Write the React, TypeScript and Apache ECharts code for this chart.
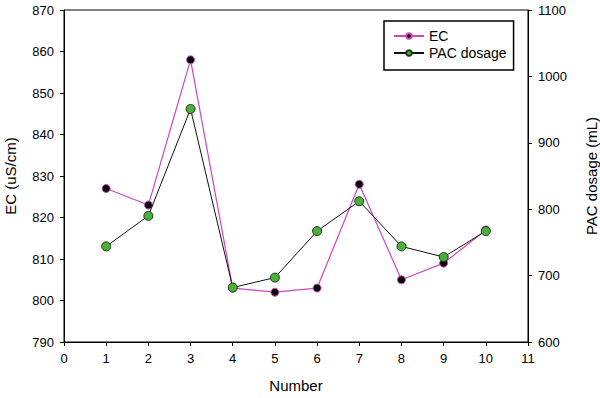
import React, { useEffect, useRef } from "react";
import * as echarts from "echarts";

const xNumbers = [1, 2, 3, 4, 5, 6, 7, 8, 9, 10];
const ecValues = [827, 823, 858, 803, 802, 803, 828, 805, 809, 817];
const pacValues = [744, 790, 951, 682, 697, 767, 812, 744, 728, 767];

const FONT = "Liberation Sans";

export default function App() {
  const ref = useRef<HTMLDivElement>(null);
  useEffect(() => {
    if (!ref.current) return;
    const chart = echarts.init(ref.current, null, { renderer: "svg" });
    const axisText = { color: "#000", fontFamily: FONT, fontSize: 13 };
    chart.setOption({
      animation: false,
      backgroundColor: "#fff",
      grid: {
        left: 64,
        right: 72,
        top: 10,
        bottom: 56,
        show: true,
        borderColor: "#000",
        borderWidth: 1,
        outerBoundsMode: "none",
        containLabel: false,
      },
      legend: {
        orient: "vertical",
        left: 384,
        top: 21,
        itemWidth: 30,
        itemHeight: 7,
        itemGap: 3,
        padding: [8, 7, 10, 9],
        borderColor: "#000",
        borderWidth: 1.5,
        backgroundColor: "#fff",
        textStyle: { color: "#000", fontFamily: FONT, fontSize: 14, lineHeight: 14 },
        data: ["EC", "PAC dosage"],
      },
      xAxis: {
        type: "value",
        min: 0,
        max: 11,
        interval: 1,
        name: "Number",
        nameLocation: "middle",
        nameGap: 36,
        nameTextStyle: { color: "#000", fontFamily: FONT, fontSize: 15 },
        axisLine: { show: true, lineStyle: { color: "#000", width: 1 } },
        axisTick: { show: true, inside: false, length: 4, lineStyle: { color: "#000" } },
        axisLabel: { ...axisText, margin: 10 },
        splitLine: { show: false },
      },
      yAxis: [
        {
          type: "value",
          min: 790,
          max: 870,
          interval: 10,
          position: "left",
          name: "EC (uS/cm)",
          nameLocation: "middle",
          nameRotate: 90,
          nameGap: 46,
          nameTextStyle: { color: "#000", fontFamily: FONT, fontSize: 15 },
          axisLine: { show: true, lineStyle: { color: "#000", width: 1 } },
          axisTick: { show: true, inside: false, length: 4, lineStyle: { color: "#000" } },
          axisLabel: { ...axisText, margin: 10 },
          splitLine: { show: false },
        },
        {
          type: "value",
          min: 600,
          max: 1100,
          interval: 100,
          position: "right",
          name: "PAC dosage (mL)",
          nameLocation: "middle",
          nameRotate: 90,
          nameGap: 56,
          nameTextStyle: { color: "#000", fontFamily: FONT, fontSize: 15 },
          axisLine: { show: true, lineStyle: { color: "#000", width: 1 } },
          axisTick: { show: true, inside: false, length: 4, lineStyle: { color: "#000" } },
          axisLabel: { ...axisText, margin: 10, formatter: (v: number) => String(v) },
          splitLine: { show: false },
        },
      ],
      series: [
        {
          name: "EC",
          type: "line",
          yAxisIndex: 0,
          data: xNumbers.map((x, i) => [x, ecValues[i]]),
          symbol: "circle",
          symbolSize: 8,
          lineStyle: { color: "#cf45c0", width: 1.2 },
          itemStyle: { color: "#000", borderColor: "#cf45c0", borderWidth: 1 },
          z: 2,
        },
        {
          name: "PAC dosage",
          type: "line",
          yAxisIndex: 1,
          data: xNumbers.map((x, i) => [x, pacValues[i]]),
          symbol: "circle",
          symbolSize: 9,
          lineStyle: { color: "#111", width: 1 },
          itemStyle: { color: "#4caf3c", borderColor: "#1a3a12", borderWidth: 1 },
          z: 3,
        },
      ],
    });
    return () => chart.dispose();
  }, []);
  return <div ref={ref} style={{ width: 600, height: 398, position: "absolute", left: 0, top: 0 }} />;
}
